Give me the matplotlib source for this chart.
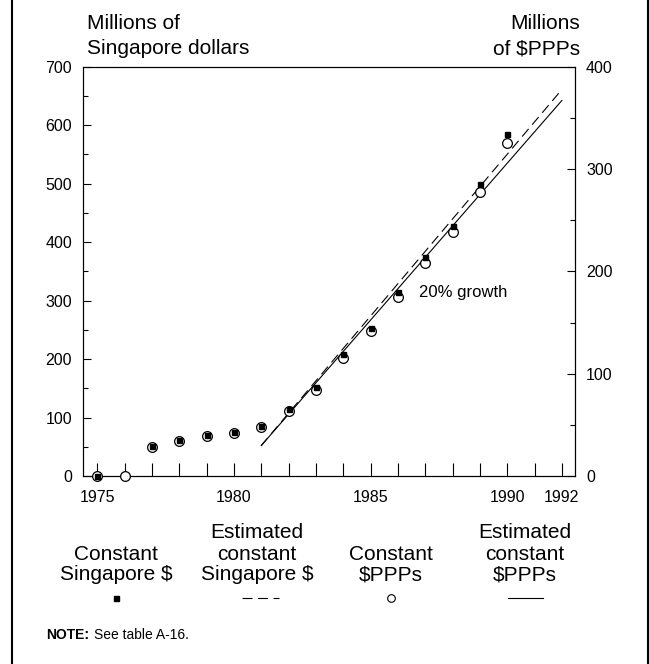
import numpy as np
import matplotlib
matplotlib.use('Agg')
import matplotlib.pyplot as plt
from matplotlib.lines import Line2D

plt.rcParams['font.family'] = ['Liberation Sans', 'DejaVu Sans']

# Data
years = [1975, 1976, 1977, 1978, 1979, 1980, 1981, 1982, 1983, 1984, 1985, 1986, 1987, 1988, 1989, 1990]
# constant Singapore $ (millions, left axis); no square shown for 1976
const_sgd = [0, np.nan, 52, 61, 70, 76, 85, 114, 152, 209, 253, 314, 374, 428, 499, 585]
# constant $PPPs (millions, right axis)
const_ppp = [0, 0, 28.7, 33.9, 39.1, 42.3, 47.9, 63.5, 84, 115.6, 141.5, 175.2, 208.5, 238.8, 277.8, 325.1]

# fitted 20% growth lines, start and end years
est_years = [1981, 1992]
est_sgd = [52, 661]
est_ppp = [29.7, 367]

xtick_years = [1975, 1980, 1985, 1990, 1992]
all_ticks = list(range(1975, 1993))

W, H = 649, 664
fig = plt.figure(figsize=(W / 100, H / 100), dpi=100)
ax = fig.add_axes([83.3 / W, 1 - 476 / H, (575 - 83.3) / W, (476 - 66.7) / H])
ax2 = ax.twinx()

ax.set_xlim(1974.49, 1992.48)
ax.set_ylim(0, 700)
ax2.set_ylim(0, 400)

dash = (0, (9, 5))
ax.plot(est_years, est_sgd, color='black', lw=0.8, linestyle=dash, zorder=2)
ax2.plot(est_years, est_ppp, color='black', lw=0.8, zorder=2)
ax2.plot(years, const_ppp, linestyle='none', marker='o', markersize=7,
         markerfacecolor='white', markeredgecolor='black', markeredgewidth=0.9,
         clip_on=False, zorder=3)
# squares go on ax2 so they sit above the circles; rescale left-axis values
ax2.plot(years, np.array(const_sgd) * 400 / 700, linestyle='none', marker='s',
         markersize=3.6, color='black', clip_on=False, zorder=4)

ax.set_xticks(all_ticks)
ax.set_xticklabels([str(y) if y in xtick_years else '' for y in all_ticks])
ax.set_yticks(range(0, 701, 100))
ax.set_yticks(range(50, 700, 100), minor=True)
ax2.set_yticks(range(0, 401, 100))
ax2.set_yticks(range(50, 400, 100), minor=True)

ax.tick_params(axis='x', direction='in', length=9.5, width=0.8, pad=10, labelsize=11.5)
ax.tick_params(axis='y', which='major', direction='in', length=6, width=0.8, pad=8, labelsize=11.5)
ax.tick_params(axis='y', which='minor', direction='in', length=3.5, width=0.8)
ax2.tick_params(axis='y', which='major', direction='in', length=6, width=0.8, pad=8, labelsize=11.5)
ax2.tick_params(axis='y', which='minor', direction='in', length=3.5, width=0.8)
for a in (ax, ax2):
    for s in a.spines.values():
        s.set_linewidth(0.8)

ax.text(1986.78, 313, '20% growth', fontsize=12, va='center', ha='left')

# axis unit titles, one text per line
def lines_at(x, baselines, lines, size, ha):
    for yb, s in zip(baselines, lines):
        fig.text(x / W, 1 - yb / H, s, fontsize=size, ha=ha, va='baseline')

lines_at(87, [29, 54], ['Millions of', 'Singapore dollars'], 15, 'left')
lines_at(580, [29, 54], ['Millions', 'of $PPPs'], 15, 'right')

# legend row
legend_items = [
    (['Constant', 'Singapore $'], 116),
    (['Estimated', 'constant', 'Singapore $'], 257),
    (['Constant', '$PPPs'], 391),
    (['Estimated', 'constant', '$PPPs'], 525),
]
for label_lines, xc in legend_items:
    base = [538.5, 559.5, 580][-len(label_lines):]
    lines_at(xc, base, label_lines, 15, 'center')

ly = 1 - 598 / H
fig.add_artist(Line2D([116 / W], [ly], marker='s', markersize=3.6, color='black', linestyle='none'))
fig.add_artist(Line2D([242 / W, 279 / W], [ly, ly], color='black', lw=0.8, linestyle=dash))
fig.add_artist(Line2D([391 / W], [ly], marker='o', markersize=5.5, markerfacecolor='white',
                      markeredgecolor='black', markeredgewidth=0.8, linestyle='none'))
fig.add_artist(Line2D([508 / W, 543 / W], [ly, ly], color='black', lw=0.8))

fig.text(46 / W, 1 - 639 / H, 'NOTE:', fontsize=10, fontweight='bold', ha='left', va='baseline')
fig.text(94 / W, 1 - 639 / H, 'See table A-16.', fontsize=10, ha='left', va='baseline')

# page frame (left and right rules)
fig.add_artist(Line2D([11.7 / W, 11.7 / W], [0, 1], color='black', lw=1.5))
fig.add_artist(Line2D([647.5 / W, 647.5 / W], [0, 1], color='black', lw=1.5))

fig.savefig('out.png', dpi=100)
